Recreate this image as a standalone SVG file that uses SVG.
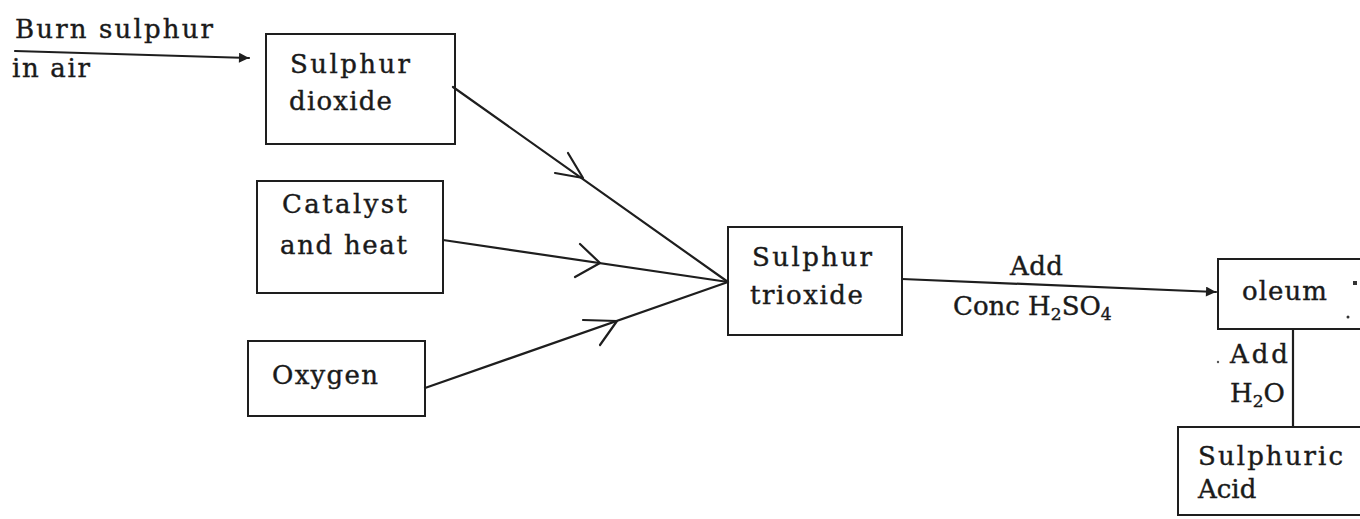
<svg xmlns="http://www.w3.org/2000/svg" width="1360" height="519" viewBox="0 0 1360 519">
<style>
.box{fill:none;stroke:#1e1e1e;stroke-width:2}
.ln{fill:none;stroke:#1e1e1e;stroke-width:2.2;stroke-linecap:round;stroke-linejoin:round}
text{font-family:"DejaVu Serif","Liberation Serif",serif;font-size:26px;fill:#1a1a1a;stroke:#1a1a1a;stroke-width:0.4}
.sub{font-size:17px}
</style>
<defs>
<marker id="tri" viewBox="0 0 10 10" refX="10" refY="5" markerWidth="14" markerHeight="10" markerUnits="userSpaceOnUse" orient="auto">
<path d="M0,0 L10,5 L0,10 Z" fill="#1e1e1e"/>
</marker>
</defs>
<rect width="1360" height="519" fill="#ffffff"/>

<g id="connectors">
<line class="ln" x1="15" y1="51" x2="249" y2="58" marker-end="url(#tri)"/>
<line class="ln" x1="453" y1="87" x2="728" y2="282"/>
<path class="ln" d="M568,153 L583,178 L555,173"/>
<line class="ln" x1="443" y1="240" x2="728" y2="282"/>
<path class="ln" d="M580,244 L600,263 L575,277"/>
<line class="ln" x1="425" y1="388" x2="728" y2="282"/>
<path class="ln" d="M583,320 L617,321 L600,345"/>
<line class="ln" x1="902" y1="279" x2="1216" y2="292" marker-end="url(#tri)"/>
<line class="ln" x1="1293" y1="329" x2="1293" y2="426"/>
</g>

<g id="label-burn">
<text x="15" y="38" textLength="198">Burn sulphur</text>
<text x="12" y="77" textLength="78">in air</text>
</g>

<g id="node-so2">
<rect class="box" x="266" y="34" width="189" height="110"/>
<text x="290" y="73" textLength="120">Sulphur</text>
<text x="289" y="110" textLength="103">dioxide</text>
</g>

<g id="node-catalyst">
<rect class="box" x="257" y="181" width="186" height="112"/>
<text x="282" y="213" textLength="125">Catalyst</text>
<text x="280" y="254" textLength="127">and heat</text>
</g>

<g id="node-oxygen">
<rect class="box" x="248" y="341" width="177" height="75"/>
<text x="272" y="384" textLength="106">Oxygen</text>
</g>

<g id="node-so3">
<rect class="box" x="728" y="227" width="174" height="108"/>
<text x="752" y="266" textLength="120">Sulphur</text>
<text x="750" y="304" textLength="113">trioxide</text>
</g>

<g id="label-conc">
<text x="1010" y="275" textLength="53">Add</text>
<text x="953" y="315">Conc H<tspan class="sub" dy="5">2</tspan><tspan dy="-5">SO</tspan><tspan class="sub" dy="5">4</tspan></text>
</g>

<g id="node-oleum">
<rect class="box" x="1218" y="259" width="160" height="70"/>
<text x="1242" y="300" textLength="85">oleum</text>
<rect x="1353" y="281" width="4" height="4" fill="#333"/>
<circle cx="1348" cy="317" r="1.5" fill="#333"/>
</g>

<g id="label-h2o">
<circle cx="1218" cy="362" r="1.2" fill="#555"/>
<text x="1230" y="363" textLength="58">Add</text>
<text x="1230" y="402">H<tspan class="sub" dy="5">2</tspan><tspan dy="-5">O</tspan></text>
</g>

<g id="node-acid">
<rect class="box" x="1178" y="427" width="200" height="88"/>
<text x="1198" y="465" textLength="145">Sulphuric</text>
<text x="1198" y="498">Acid</text>
</g>
</svg>
